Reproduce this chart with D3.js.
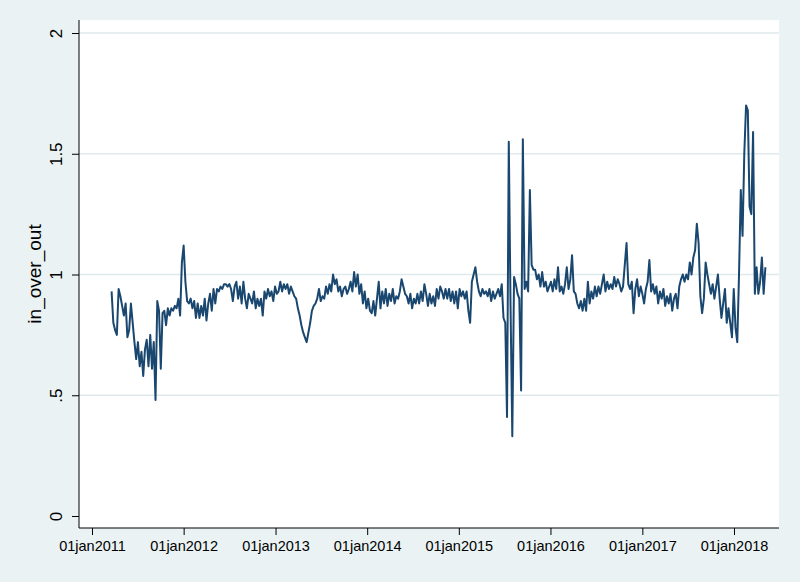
<!DOCTYPE html>
<html>
<head>
<meta charset="utf-8">
<script src="https://cdn.jsdelivr.net/npm/d3@7"></script>
<style>
  body { margin: 0; background: #eaf2f3; }
  svg { display: block; }
</style>
</head>
<body>
<script>
// weekly series, first week 20mar2011
const firstWeek = "2011-03-20";
const inOverOut = [
  0.93, 0.80, 0.77, 0.75, 0.94, 0.91, 0.87, 0.83, 0.88, 0.74, 0.77, 0.88, 0.80, 0.72, 0.65, 0.72,
  0.62, 0.68, 0.58, 0.69, 0.73, 0.62, 0.75, 0.61, 0.72, 0.48, 0.89, 0.85, 0.61, 0.84, 0.85, 0.79,
  0.86, 0.83, 0.86, 0.85, 0.87, 0.86, 0.90, 0.83, 1.05, 1.12, 0.97, 0.89, 0.88, 0.90, 0.86, 0.89,
  0.82, 0.88, 0.82, 0.87, 0.83, 0.90, 0.81, 0.88, 0.92, 0.85, 0.94, 0.88, 0.94, 0.93, 0.95, 0.94,
  0.96, 0.96, 0.95, 0.96, 0.94, 0.89, 0.95, 0.97, 0.90, 0.95, 0.88, 0.97, 0.90, 0.86, 0.92, 0.90,
  0.88, 0.93, 0.86, 0.90, 0.87, 0.90, 0.83, 0.93, 0.90, 0.94, 0.91, 0.93, 0.89, 0.95, 0.92, 0.93,
  0.97, 0.93, 0.96, 0.94, 0.96, 0.92, 0.95, 0.93, 0.91, 0.90, 0.86, 0.83, 0.79, 0.76, 0.74, 0.72,
  0.76, 0.80, 0.85, 0.87, 0.88, 0.90, 0.94, 0.89, 0.91, 0.90, 0.95, 0.92, 0.96, 0.93, 1.00, 0.96,
  0.98, 0.93, 0.95, 0.91, 0.94, 0.95, 0.92, 0.94, 0.97, 0.93, 1.01, 0.95, 1.00, 0.92, 0.96, 0.88,
  0.93, 0.86, 0.90, 0.85, 0.84, 0.89, 0.83, 0.90, 0.97, 0.86, 0.93, 0.88, 0.94, 0.87, 0.92, 0.89,
  0.94, 0.88, 0.91, 0.90, 0.93, 0.98, 0.95, 0.92, 0.91, 0.88, 0.92, 0.86, 0.90, 0.88, 0.92, 0.88,
  0.93, 0.89, 0.96, 0.92, 0.87, 0.92, 0.88, 0.91, 0.87, 0.94, 0.90, 0.95, 0.93, 0.90, 0.94, 0.90,
  0.94, 0.89, 0.93, 0.88, 0.93, 0.86, 0.94, 0.91, 0.93, 0.90, 0.93, 0.85, 0.80, 0.97, 1.00, 1.03,
  0.97, 0.93, 0.91, 0.94, 0.92, 0.93, 0.91, 0.94, 0.89, 0.93, 0.90, 0.92, 0.94, 0.91, 0.96, 0.82,
  0.80, 0.41, 1.55, 0.87, 0.33, 0.99, 0.96, 0.92, 0.90, 0.52, 1.56, 0.94, 0.97, 0.93, 1.35, 1.04,
  1.02, 1.02, 0.98, 1.00, 0.95, 1.01, 0.95, 0.97, 0.93, 0.95, 0.97, 0.93, 0.98, 0.94, 1.03, 0.93,
  0.95, 0.92, 0.96, 1.03, 0.94, 0.98, 1.08, 0.93, 0.92, 0.88, 0.86, 0.89, 0.85, 0.90, 0.85, 0.97,
  0.88, 0.93, 0.90, 0.95, 0.91, 0.95, 0.92, 0.96, 1.00, 0.93, 0.97, 0.94, 0.96, 0.94, 0.99, 0.95,
  0.98, 0.96, 0.93, 0.95, 1.04, 1.13, 0.96, 0.94, 0.97, 0.84, 0.94, 0.98, 0.91, 0.95, 0.92, 0.88,
  0.94, 0.97, 1.06, 0.93, 0.96, 0.92, 0.95, 0.88, 0.93, 0.90, 0.94, 0.87, 0.91, 0.88, 0.92, 0.85,
  0.90, 0.92, 0.86, 0.95, 0.98, 1.00, 0.97, 1.00, 0.98, 1.05, 1.00, 1.07, 1.10, 1.21, 1.13, 0.91,
  0.84, 0.90, 1.05, 1.00, 0.96, 0.92, 0.96, 0.90, 0.95, 1.00, 0.90, 0.82, 0.88, 0.94, 0.80, 0.86,
  0.80, 0.74, 0.94, 0.78, 0.72, 1.00, 1.35, 1.16, 1.50, 1.70, 1.68, 1.28, 1.25, 1.59, 0.92, 1.03,
  0.92, 0.97, 1.07, 0.92, 1.03
];
const xTickDates = ["2011-01-01", "2012-01-01", "2013-01-01", "2014-01-01",
                    "2015-01-01", "2016-01-01", "2017-01-01", "2018-01-01"];
const xTickLabels = ["01jan2011", "01jan2012", "01jan2013", "01jan2014",
                     "01jan2015", "01jan2016", "01jan2017", "01jan2018"];
const yTicks = [0, 0.5, 1, 1.5, 2];
const yTickLabels = ["0", ".5", "1", "1.5", "2"];
const yTitle = "in_over_out";

const width = 800, height = 582;
const plot = {left: 79, right: 779, top: 20, bottom: 528};

const parse = d3.timeParse("%Y-%m-%d");
const start = parse(firstWeek);
const data = inOverOut.map((v, i) => ({date: d3.timeWeek.offset(start, i), value: v}));

const x = d3.scaleTime()
  .domain([parse(xTickDates[0]), parse(xTickDates[xTickDates.length - 1])])
  .range([92, 734]);
const y = d3.scaleLinear()
  .domain([0, 2])
  .range([516, 33]);

const svg = d3.select("body").append("svg")
  .attr("width", width)
  .attr("height", height);

svg.append("rect")
  .attr("width", width).attr("height", height)
  .attr("fill", "#eaf2f3");

svg.append("rect")
  .attr("x", plot.left).attr("y", plot.top)
  .attr("width", plot.right - plot.left)
  .attr("height", plot.bottom - plot.top)
  .attr("fill", "#fff");

// gridlines (none at 0)
svg.append("g")
  .selectAll("line")
  .data(yTicks.filter(d => d > 0))
  .enter().append("line")
    .attr("x1", plot.left).attr("x2", plot.right)
    .attr("y1", d => y(d)).attr("y2", d => y(d))
    .attr("stroke", "#e0eaec")
    .attr("stroke-width", 1.5);

const line = d3.line()
  .x(d => x(d.date))
  .y(d => y(d.value));

svg.append("path")
  .datum(data)
  .attr("fill", "none")
  .attr("stroke", "#1a476f")
  .attr("stroke-width", 2)
  .attr("stroke-linejoin", "round")
  .attr("d", line);

// y axis
const yAxis = g => g
  .attr("transform", `translate(${plot.left},0)`)
  .call(d3.axisLeft(y).tickValues(yTicks).tickSize(7).tickFormat((d, i) => yTickLabels[i]))
  .call(g => g.select(".domain").attr("d", `M0,${plot.top}V${plot.bottom}`))
  .call(g => g.selectAll("text")
    .attr("x", null).attr("dy", null)
    .attr("text-anchor", "middle")
    .attr("transform", "translate(-17,0) rotate(-90)")
    .style("font", "17px 'Liberation Sans', Arial, sans-serif")
    .attr("fill", "#000"));

svg.append("g").call(yAxis);

// x axis
const xAxis = g => g
  .attr("transform", `translate(0,${plot.bottom})`)
  .call(d3.axisBottom(x).tickValues(xTickDates.map(parse)).tickSize(7)
    .tickFormat((d, i) => xTickLabels[i]))
  .call(g => g.select(".domain").attr("d", `M${plot.left},0H${plot.right}`))
  .call(g => g.selectAll("text")
    .attr("y", 13).attr("dy", "0.71em")
    .style("font", "14.5px 'Liberation Sans', Arial, sans-serif")
    .attr("fill", "#000"));

svg.append("g").call(xAxis);

svg.append("text")
  .attr("transform", `translate(41,${(plot.top + plot.bottom) / 2}) rotate(-90)`)
  .attr("text-anchor", "middle")
  .style("font", "19px 'Liberation Sans', Arial, sans-serif")
  .text(yTitle);
</script>
</body>
</html>
